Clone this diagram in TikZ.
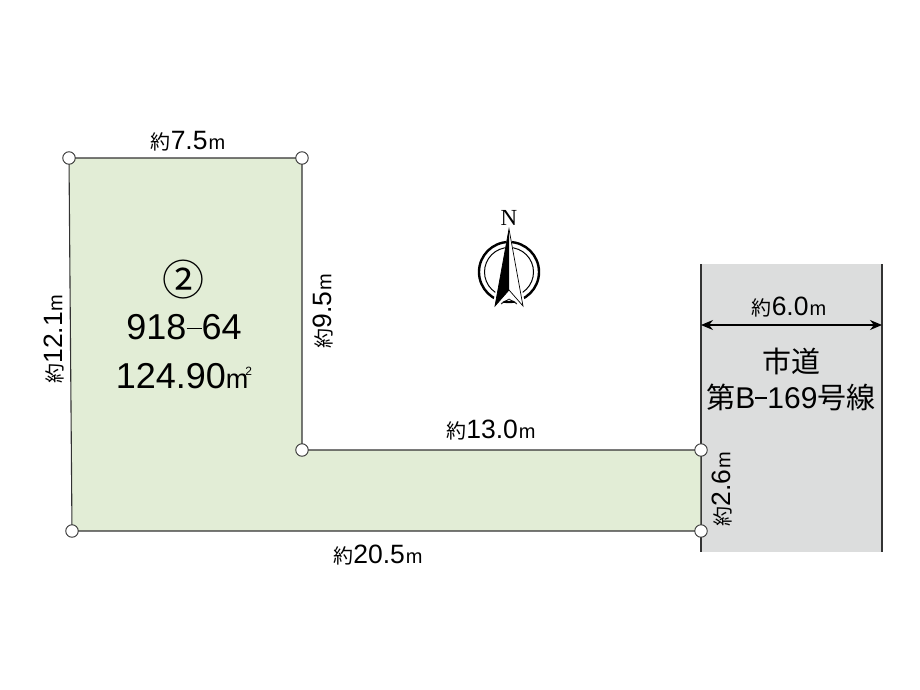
\documentclass[tikz,border=0pt]{standalone}
\usepackage{fontspec}
\setmainfont{Liberation Sans}
\newfontfamily\cjk{Noto Sans CJK JP}
\newfontfamily\nserif{Liberation Serif}
\usetikzlibrary{arrows.meta}
\definecolor{lotgreen}{HTML}{E2EDD6}
\definecolor{roadgrey}{HTML}{DCDDDD}
\definecolor{inkline}{HTML}{333333}
\newcommand{\yk}{{\cjk\fontsize{20}{20}\selectfont 約}}
\newcommand{\mm}{\hspace{1pt}{\fontsize{20}{20}\selectfont m}}
\tikzset{
  x=1pt,y=-1pt,
  corner/.style={circle,draw=inkline,fill=white,line width=0.9pt,minimum size=12.5pt,inner sep=0pt},
  dimlabel/.style={inner sep=0pt,font=\fontsize{26.5}{26.5}\selectfont},
  biglabel/.style={inner sep=0pt,font=\fontsize{36}{36}\selectfont},
  roadlabel/.style={inner sep=0pt,font=\fontsize{29}{29}\selectfont},
  edge/.style={draw=inkline,line width=1.1pt},
}
\begin{document}
\begin{tikzpicture}
\useasboundingbox (0,0) rectangle (920,690);
\fill[white] (0,0) rectangle (920,690);
% road
\fill[roadgrey] (701,264) rectangle (882,552);
\coordinate (rtl) at (701,264); \coordinate (rbl) at (701,552);
\coordinate (rtr) at (882,264); \coordinate (rbr) at (882,552);
\coordinate (wl) at (701,325); \coordinate (wr) at (882,325);
\draw[draw=inkline,line width=1.4pt] (rtl) -- (rbl) (rtr) -- (rbr);
\draw[draw=black,line width=1.1pt,{Stealth[length=12pt,width=10pt]}-{Stealth[length=12pt,width=10pt]}] (wl) -- (wr);
% lot
\coordinate (a) at (69,158); \coordinate (b) at (302,158); \coordinate (c) at (302,450);
\coordinate (d) at (701,450); \coordinate (e) at (701,531); \coordinate (f) at (72,531);
\path[fill=lotgreen,edge] (a) -- (b) -- (c) -- (d) -- (e) -- (f) -- cycle;
\foreach \p in {a,b,c,d,e,f} \node[corner] (n\p) at (\p) {};
% dimension labels
\node[dimlabel] (l1) at (188,141) {\yk 7.5\mm};
\node[dimlabel,rotate=90] (l2) at (54,339) {\yk 12.1\mm};
\node[dimlabel,rotate=90] (l3) at (323,311) {\yk 9.5\mm};
\node[dimlabel] (l4) at (491,430) {\yk 13.0\mm};
\node[dimlabel,rotate=90] (l5) at (722,489) {\yk 2.6\mm};
\node[dimlabel] (l6) at (378,555) {\yk 20.5\mm};
\node[dimlabel] (l7) at (789,307) {\yk 6.0\mm};
% lot text
\node[biglabel] (t1) at (183,280) {\cjk\fontsize{42}{42}\selectfont ②};
\node[biglabel] (t2) at (184,327) {918\raisebox{10pt}{\rule{15pt}{1.8pt}}64};
\node[biglabel] (t3) at (184,376) {124.90{\fontsize{27}{27}\selectfont m}\hspace{-3pt}\raisebox{13pt}{\fontsize{12}{12}\selectfont 2}};
% road text
\node[roadlabel] (r1) at (791,361) {\cjk 市道};
\node[roadlabel] (r2) at (791,397) {\cjk 第{\fontspec{Liberation Sans}\fontsize{30}{30}\selectfont B\raisebox{9pt}{\rule{12pt}{1.6pt}}169}号線};
% compass
\coordinate (cc) at (509,272);
\draw[line width=2.4pt] (cc) circle (30);
\draw[line width=1pt] (cc) circle (24.5);
\fill[white] (509,229) -- (526,308) -- (509,298) -- (492,308) -- cycle;
\fill[black] (509,229) -- (509,290) -- (495,306) -- cycle;
\draw[line width=0.7pt] (509,229) -- (523,306) -- (509,290) -- (495,306) -- cycle;
\draw[line width=0.7pt] (501,304) -- (509,299) -- (517,304);
\node[inner sep=0pt,font=\nserif\fontsize{23}{23}\selectfont] (north) at (509,218) {N};
\end{tikzpicture}
\end{document}
